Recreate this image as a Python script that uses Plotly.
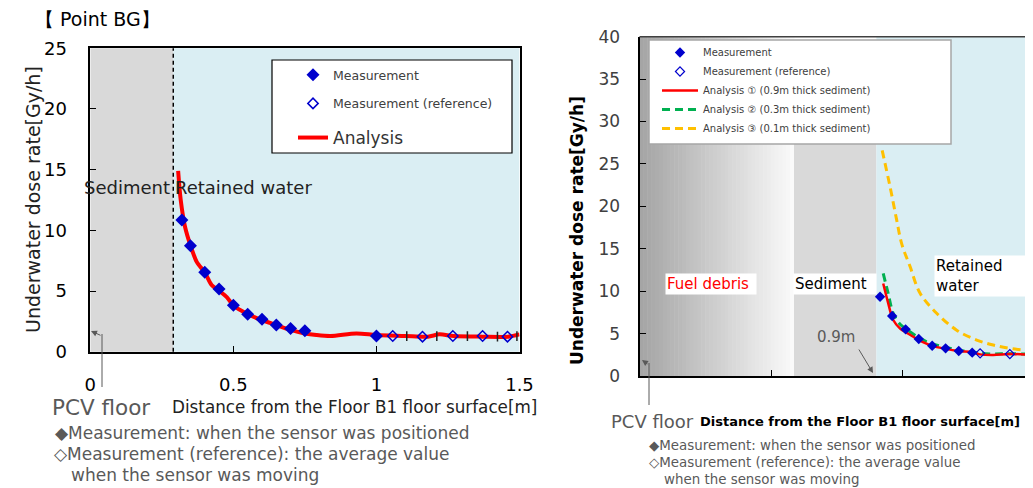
import plotly.graph_objects as go

# page puts the figure 8px in from the top-left corner, so the figure is 8px smaller
OFF = 8
W, H = 1033 - OFF, 488 - OFF

# ---- left panel: Point BG ----
bg_meas_x = [0.32, 0.35, 0.40, 0.45, 0.50, 0.55, 0.60, 0.65, 0.70, 0.75, 1.00]
bg_meas_y = [10.85, 8.73, 6.54, 5.16, 3.82, 3.08, 2.67, 2.20, 1.92, 1.73, 1.29]
bg_ref_x = [1.057, 1.161, 1.267, 1.371, 1.458]
bg_ref_y = [1.29, 1.24, 1.29, 1.29, 1.24]
bg_bar_x = [1.106, 1.211, 1.318, 1.423, 1.491]
bg_bar_y = [1.29, 1.29, 1.29, 1.24, 1.29]
bg_ana_x = [0.307, 0.316, 0.331, 0.351, 0.372, 0.401, 0.424, 0.451, 0.477, 0.50, 0.55, 0.60,
            0.65, 0.70, 0.75, 0.79, 0.84, 0.93, 1.00, 1.10, 1.18, 1.22, 1.27, 1.37, 1.46, 1.50]
bg_ana_y = [14.9, 12.5, 10.3, 8.7, 7.4, 6.5, 5.5, 5.0, 4.5, 3.8, 3.1, 2.6,
            2.2, 1.8, 1.5, 1.37, 1.29, 1.5, 1.37, 1.3, 1.24, 1.43, 1.29, 1.24, 1.24, 1.43]
bg_sediment_top = 0.29

# ---- right panel ----
r_meas_x = [0.914, 0.960, 1.011, 1.061, 1.112, 1.163, 1.213, 1.264]
r_meas_y = [9.35, 7.07, 5.5, 4.36, 3.57, 3.26, 2.95, 2.75]
r_ref_x = [1.294, 1.407]
r_ref_y = [2.67, 2.59]
a1_x = [0.926, 0.945, 0.964, 0.99, 1.015, 1.062, 1.112, 1.163, 1.213, 1.264, 1.294, 1.344, 1.407, 1.495]
a1_y = [10.9, 8.57, 6.6, 5.6, 5.1, 4.24, 3.55, 3.2, 2.95, 2.8, 2.55, 2.48, 2.59, 2.48]
a2_x = [0.926, 0.945, 0.964, 0.99, 1.015, 1.066, 1.112, 1.163, 1.213, 1.264, 1.294, 1.344, 1.407, 1.495]
a2_y = [12.1, 9.7, 7.4, 6.1, 5.5, 4.44, 3.77, 3.4, 3.05, 2.84, 2.67, 2.6, 2.63, 2.55]
a3_x = [0.922, 0.952, 0.977, 0.996, 1.028, 1.066, 1.129, 1.205, 1.281, 1.344, 1.408, 1.495]
a3_y = [26.6, 22.3, 18.4, 15.6, 12.9, 9.75, 7.4, 5.4, 4.24, 3.65, 3.26, 2.95]
debris_top = 0.587
sediment_top = 0.9

FONT = "DejaVu Sans"
BLUE = "#0000CD"
GRAY_TXT = "#595959"


def px(x):
    return (x - OFF) / W


def py(y):
    return 1 - (y - OFF) / H


fig = go.Figure()

# left traces
fig.add_trace(go.Scatter(x=bg_ana_x, y=bg_ana_y, mode="lines", name="Analysis",
                         line=dict(color="#FF0000", width=4, shape="spline", smoothing=0.8),
                         xaxis="x", yaxis="y", legend="legend3"))
fig.add_trace(go.Scatter(x=bg_bar_x, y=bg_bar_y, mode="markers", showlegend=False,
                         marker=dict(symbol="line-ns", size=7, line=dict(color="#222", width=1.5)),
                         xaxis="x", yaxis="y"))
fig.add_trace(go.Scatter(x=bg_meas_x, y=bg_meas_y, mode="markers", name="Measurement",
                         marker=dict(symbol="diamond", size=10, color=BLUE),
                         xaxis="x", yaxis="y", legend="legend", legendgroup="l1", legendrank=1))
fig.add_trace(go.Scatter(x=bg_ref_x, y=bg_ref_y, mode="markers", name="Measurement (reference)",
                         marker=dict(symbol="diamond-open", size=8, color=BLUE, line=dict(width=1.5)),
                         xaxis="x", yaxis="y", legend="legend", legendgroup="l2", legendrank=2))

# right traces
fig.add_trace(go.Scatter(x=a3_x, y=a3_y, mode="lines", name="Analysis \u2462 (0.1m thick sediment)",
                         line=dict(color="#FFC000", width=3, dash="8px,5px", shape="spline"),
                         xaxis="x2", yaxis="y2", legend="legend2", legendgroup="r5", legendrank=5))
fig.add_trace(go.Scatter(x=a2_x, y=a2_y, mode="lines", name="Analysis \u2461 (0.3m thick sediment)",
                         line=dict(color="#00B050", width=3, dash="8px,5px", shape="spline"),
                         xaxis="x2", yaxis="y2", legend="legend2", legendgroup="r4", legendrank=4))
fig.add_trace(go.Scatter(x=a1_x, y=a1_y, mode="lines", name="Analysis \u2460 (0.9m thick sediment)",
                         line=dict(color="#FF0000", width=2.5, shape="spline"),
                         xaxis="x2", yaxis="y2", legend="legend2", legendgroup="r3", legendrank=3))
fig.add_trace(go.Scatter(x=r_meas_x, y=r_meas_y, mode="markers", name="Measurement",
                         marker=dict(symbol="diamond", size=8, color=BLUE),
                         xaxis="x2", yaxis="y2", legend="legend2", legendgroup="r1", legendrank=1))
fig.add_trace(go.Scatter(x=r_ref_x, y=r_ref_y, mode="markers", name="Measurement (reference)",
                         marker=dict(symbol="diamond-open", size=7, color=BLUE, line=dict(width=1.2)),
                         xaxis="x2", yaxis="y2", legend="legend2", legendgroup="r2", legendrank=2))

shapes = []
# left backgrounds
shapes.append(dict(type="rect", xref="x", yref="y domain", x0=0, x1=bg_sediment_top, y0=0, y1=1,
                   fillcolor="#D9D9D9", line_width=0, layer="below"))
shapes.append(dict(type="rect", xref="x", yref="y domain", x0=bg_sediment_top, x1=1.5, y0=0, y1=1,
                   fillcolor="#DAEEF3", line_width=0, layer="below"))
shapes.append(dict(type="line", xref="x", yref="y domain", x0=bg_sediment_top, x1=bg_sediment_top,
                   y0=0, y1=1, line=dict(color="black", width=1.5, dash="4px,3px"), layer="below"))
# right backgrounds: gradient for fuel debris
n = 40
for i in range(n):
    g = int(165 + (250 - 165) * i / (n - 1))
    shapes.append(dict(type="rect", xref="x2", yref="y2 domain",
                       x0=debris_top * i / n, x1=debris_top * (i + 1) / n + 0.002, y0=0, y1=1,
                       fillcolor="rgb(%d,%d,%d)" % (g, g, g), line_width=0, layer="below"))
shapes.append(dict(type="rect", xref="x2", yref="y2 domain", x0=debris_top, x1=sediment_top, y0=0, y1=0.99,
                   fillcolor="#D9D9D9", line_width=0, layer="below"))
shapes.append(dict(type="rect", xref="x2", yref="y2 domain", x0=sediment_top, x1=1.6, y0=0, y1=1,
                   fillcolor="#DAEEF3", line_width=0, layer="below"))
# legend boxes
shapes.append(dict(type="rect", xref="paper", yref="paper", x0=px(272), x1=px(512), y0=py(153), y1=py(60),
                   fillcolor="white", line=dict(color="black", width=1.2), layer="above"))
shapes.append(dict(type="rect", xref="paper", yref="paper", x0=px(649), x1=px(951), y0=py(144), y1=py(40),
                   fillcolor="white", line=dict(color="#A6A6A6", width=1.5), layer="above"))
# PCV floor arrow stems
shapes.append(dict(type="line", xref="paper", yref="paper", x0=px(102), x1=px(102), y0=py(387), y1=py(334),
                   line=dict(color=GRAY_TXT, width=1)))
shapes.append(dict(type="line", xref="paper", yref="paper", x0=px(649), x1=px(649), y0=py(405), y1=py(363),
                   line=dict(color=GRAY_TXT, width=1)))
# top border of right panel
shapes.append(dict(type="line", xref="x2 domain", yref="y2 domain", x0=0, x1=1, y0=1, y1=1,
                   line=dict(color="#404040", width=1.5)))

ann = []


def txt(x, y, s, size, color="black", xanchor="left", bold=False, **kw):
    if bold:
        s = "<b>%s</b>" % s
    ann.append(dict(x=px(x), y=py(y), xref="paper", yref="paper", text=s, showarrow=False,
                    xanchor=xanchor, yanchor="middle", font=dict(family=FONT, size=size, color=color), **kw))


txt(33, 19.5, "\u3010 Point BG\u3011", 19)
ann.append(dict(x=px(20), y=py(200), xref="paper", yref="paper", text="Underwater dose rate[Gy/h]",
                textangle=-90, showarrow=False, font=dict(family=FONT, size=19, color="#222")))
txt(82, 187, "Sediment", 18, "#222")
txt(173, 187, "Retained water", 18, "#222")
txt(50, 407, "PCV floor", 21.5, GRAY_TXT)
txt(170, 407, "Distance from the Floor B1 floor surface[m]", 16.8, "#222")
txt(53, 433, "\u25c6Measurement: when the sensor was positioned", 17, GRAY_TXT)
txt(52, 454, "\u25c7Measurement (reference): the average value", 17, GRAY_TXT)
txt(69, 475, "when the sensor was moving", 17, GRAY_TXT)

ann.append(dict(x=px(577), y=py(231), xref="paper", yref="paper", text="<b>Underwater dose rate[Gy/h]</b>",
                textangle=-90, showarrow=False, font=dict(family=FONT, size=17, color="black")))
txt(665, 284, "Fuel debris", 15, "#FF0000", bgcolor="white", width=88, align="left")
txt(793, 284, "Sediment", 15, "black", bgcolor="white", width=80, align="left")
txt(934, 276, "Retained<br>water", 15, "black", bgcolor="white", width=90, align="left")
txt(815, 337, "0.9m", 15, GRAY_TXT)
txt(609, 421, "PCV floor", 18, GRAY_TXT)
txt(698, 421, "Distance from the Floor B1 floor surface[m]", 13, "black", bold=True)
txt(647, 445, "\u25c6Measurement: when the sensor was positioned", 13.4, GRAY_TXT)
txt(647, 462, "\u25c7Measurement (reference): the average value", 13.4, GRAY_TXT)
txt(662, 479, "when the sensor was moving", 13.4, GRAY_TXT)

# arrows (tip x, tip y, tail x, tail y) in pixels
for (tx, ty, sx, sy) in [(91, 331, 102, 336), (642, 360, 649, 365), (873, 373, 858, 348)]:
    ann.append(dict(x=px(tx), y=py(ty), xref="paper", yref="paper", ax=sx - tx, ay=sy - ty,
                    text="", showarrow=True, arrowhead=2,
                    arrowsize=1.2, arrowwidth=1, arrowcolor=GRAY_TXT))

fig.update_layout(
    width=W, height=H, margin=dict(l=0, r=0, t=0, b=0, autoexpand=False),
    paper_bgcolor="white", plot_bgcolor="rgba(0,0,0,0)",
    font=dict(family=FONT, color="black"),
    shapes=shapes, annotations=ann,
    xaxis=dict(domain=[px(90.3), px(519.5)], range=[0, 1.5], dtick=0.5, tick0=0, automargin=False,
               ticks="inside", ticklen=6, tickcolor="black", showgrid=False, zeroline=False,
               showline=True, linecolor="black", linewidth=1.5, mirror=True,
               tickfont=dict(size=18, color="black"), ticklabelstandoff=16, anchor="y"),
    yaxis=dict(domain=[py(351.7), py(48.3)], range=[0, 25], dtick=5, automargin=False,
               ticks="inside", ticklen=6, tickcolor="black", showgrid=False, zeroline=False,
               showline=True, linecolor="black", linewidth=1.5, mirror=True,
               tickfont=dict(size=18, color="black"), ticklabelstandoff=18, anchor="x"),
    xaxis2=dict(domain=[px(639.5), 1], range=[0, 1.495], dtick=0.5, tick0=0, automargin=False,
                ticks="inside", ticklen=6, tickcolor="black", showgrid=False, zeroline=False,
                showline=True, linecolor="black", linewidth=2, mirror=False,
                showticklabels=False, anchor="y2"),
    yaxis2=dict(domain=[py(376), py(36.7)], range=[0, 40], dtick=5, automargin=False,
                ticks="inside", ticklen=6, tickcolor="black", showgrid=False, zeroline=False,
                showline=True, linecolor="black", linewidth=2,
                tickfont=dict(size=17, color="#404040"), ticklabelstandoff=14, anchor="x2"),
    legend=dict(x=px(293), y=py(60), xanchor="left", yanchor="top", bgcolor="rgba(0,0,0,0)",
                borderwidth=0, font=dict(family=FONT, size=12.5, color="#404040"),
                itemwidth=30, tracegroupgap=9.5, traceorder="grouped"),
    legend3=dict(x=px(293), y=py(120), xanchor="left", yanchor="top", bgcolor="rgba(0,0,0,0)",
                 borderwidth=0, font=dict(family=FONT, size=17, color="#333"), itemwidth=30),
    legend2=dict(x=px(657), y=py(38), xanchor="left", yanchor="top", bgcolor="rgba(0,0,0,0)",
                 borderwidth=0, font=dict(family=FONT, size=10, color="#404040"),
                 itemwidth=36, traceorder="normal"),
)

fig.write_html("out.html")
